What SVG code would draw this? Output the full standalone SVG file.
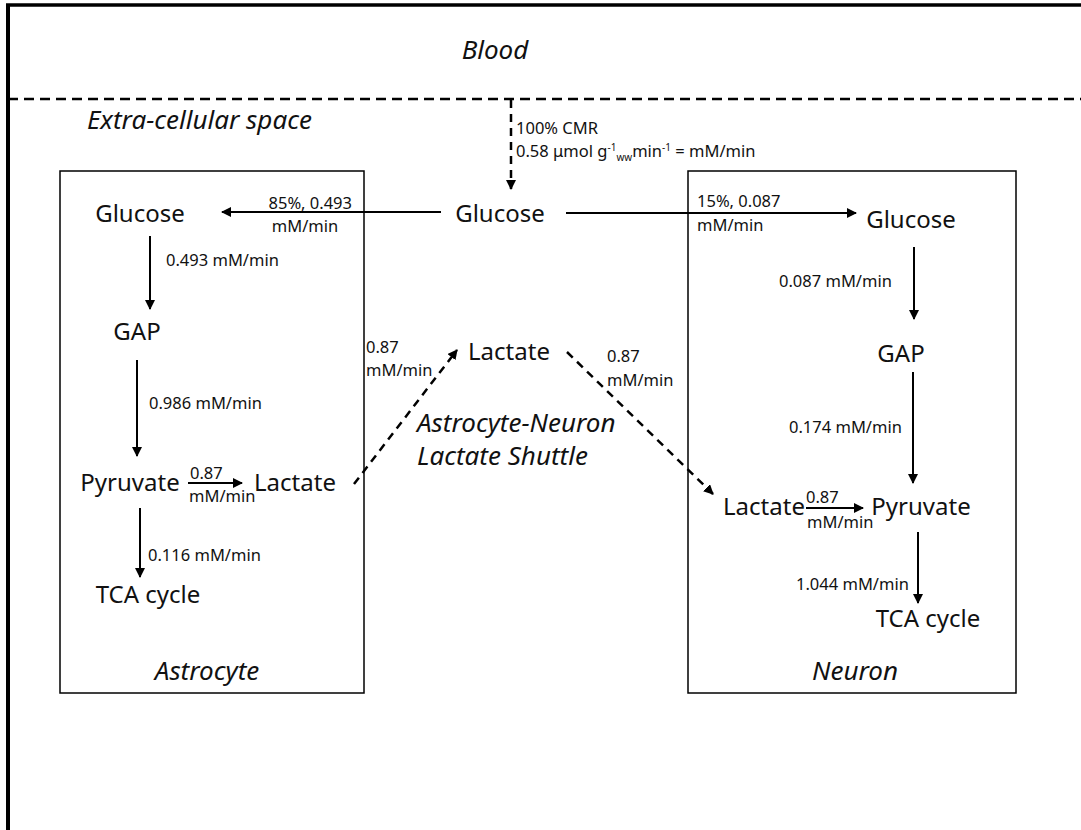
<svg xmlns="http://www.w3.org/2000/svg" width="1081" height="830" viewBox="0 0 1081 830">
  <defs>
    <marker id="ah" viewBox="0 0 10 10" refX="9" refY="5" markerWidth="10" markerHeight="10" markerUnits="userSpaceOnUse" orient="auto">
      <path d="M0,0 L10,5 L0,10 Z" fill="#000"/>
    </marker>
    <style>
      text { font-family: "Noto Sans", "Open Sans", sans-serif; fill: #111; }
      .big { font-size: 24px; }
      .it { font-size: 26px; font-style: italic; }
      .sm { font-size: 16.5px; }
      .sup { font-size: 10px; }
      .box { fill: none; stroke: #000; stroke-width: 1.5; }
      .arr { fill: none; stroke: #000; stroke-width: 2; marker-end: url(#ah); }
      .dash { fill: none; stroke: #000; stroke-width: 2.5; stroke-dasharray: 8 6; marker-end: url(#ah); }
    </style>
  </defs>

  <rect width="1081" height="830" fill="#fff"/>

  <!-- outer frame (top and left edges) -->
  <line x1="6" y1="5" x2="1081" y2="5" stroke="#000" stroke-width="3.5"/>
  <line x1="8" y1="4" x2="8" y2="830" stroke="#000" stroke-width="4"/>

  <!-- blood / extracellular boundary -->
  <line x1="8" y1="99" x2="1081" y2="99" stroke="#000" stroke-width="2.5" stroke-dasharray="10 6"/>
  <text class="it" x="495" y="59" text-anchor="middle">Blood</text>
  <text class="it" x="87" y="129">Extra-cellular space</text>

  <!-- compartments -->
  <g id="astrocyte">
    <rect class="box" x="60" y="171" width="304" height="522"/>
    <text class="it" x="207" y="680" text-anchor="middle">Astrocyte</text>
  </g>
  <g id="neuron">
    <rect class="box" x="688" y="171" width="328" height="522"/>
    <text class="it" x="855" y="680" text-anchor="middle">Neuron</text>
  </g>

  <!-- extracellular species -->
  <g id="glucose-ec"><text class="big" x="500" y="222" text-anchor="middle">Glucose</text></g>
  <g id="lactate-ec"><text class="big" x="509" y="360" text-anchor="middle">Lactate</text></g>
  <g id="shuttle-label">
    <text class="it" x="417" y="432">Astrocyte-Neuron</text>
    <text class="it" x="417" y="465">Lactate Shuttle</text>
  </g>

  <!-- astrocyte species -->
  <g id="glucose-a"><text class="big" x="140" y="222" text-anchor="middle">Glucose</text></g>
  <g id="gap-a"><text class="big" x="137" y="340" text-anchor="middle">GAP</text></g>
  <g id="pyruvate-a"><text class="big" x="130" y="491" text-anchor="middle">Pyruvate</text></g>
  <g id="lactate-a"><text class="big" x="295" y="491" text-anchor="middle">Lactate</text></g>
  <g id="tca-a"><text class="big" x="148" y="603" text-anchor="middle">TCA cycle</text></g>

  <!-- neuron species -->
  <g id="glucose-n"><text class="big" x="911" y="228" text-anchor="middle">Glucose</text></g>
  <g id="gap-n"><text class="big" x="901" y="362" text-anchor="middle">GAP</text></g>
  <g id="lactate-n"><text class="big" x="764" y="515" text-anchor="middle">Lactate</text></g>
  <g id="pyruvate-n"><text class="big" x="921" y="515" text-anchor="middle">Pyruvate</text></g>
  <g id="tca-n"><text class="big" x="928" y="627" text-anchor="middle">TCA cycle</text></g>

  <!-- connectors -->
  <g id="connectors">
    <line class="dash" x1="511" y1="100" x2="511" y2="189"/>
    <line class="arr" x1="441" y1="212" x2="222" y2="212"/>
    <line class="arr" x1="566" y1="213" x2="856" y2="213"/>

    <line class="arr" x1="150" y1="236" x2="150" y2="309"/>
    <line class="arr" x1="137" y1="360" x2="137" y2="456"/>
    <line class="arr" x1="188" y1="483" x2="242" y2="483"/>
    <line class="arr" x1="140" y1="508" x2="140" y2="577"/>

    <line class="dash" x1="354" y1="484" x2="457" y2="350"/>
    <line class="dash" x1="567" y1="352" x2="713" y2="494"/>

    <line class="arr" x1="914" y1="247" x2="914" y2="319"/>
    <line class="arr" x1="913" y1="372" x2="913" y2="483"/>
    <line class="arr" x1="806" y1="508" x2="863" y2="508"/>
    <line class="arr" x1="918" y1="532" x2="918" y2="603"/>
  </g>

  <!-- rate labels -->
  <g id="rates">
    <text class="sm" x="516" y="134">100% CMR</text>
    <text class="sm" x="516" y="157">0.58 μmol g<tspan class="sup" dy="-6">-1</tspan><tspan class="sup" dy="10">ww</tspan><tspan dy="-4">min</tspan><tspan class="sup" dy="-6">-1</tspan><tspan dy="6"> = mM/min</tspan></text>

    <text class="sm" x="352" y="209" text-anchor="end">85%, 0.493</text>
    <text class="sm" x="305" y="232" text-anchor="middle">mM/min</text>
    <text class="sm" x="697" y="207">15%, 0.087</text>
    <text class="sm" x="697" y="231">mM/min</text>

    <text class="sm" x="166" y="266">0.493 mM/min</text>
    <text class="sm" x="149" y="409">0.986 mM/min</text>
    <text class="sm" x="190" y="479">0.87</text>
    <text class="sm" x="189" y="502">mM/min</text>
    <text class="sm" x="148" y="561">0.116 mM/min</text>

    <text class="sm" x="366" y="353">0.87</text>
    <text class="sm" x="366" y="376">mM/min</text>
    <text class="sm" x="607" y="362">0.87</text>
    <text class="sm" x="607" y="386">mM/min</text>

    <text class="sm" x="779" y="287">0.087 mM/min</text>
    <text class="sm" x="789" y="433">0.174 mM/min</text>
    <text class="sm" x="806" y="503">0.87</text>
    <text class="sm" x="807" y="528">mM/min</text>
    <text class="sm" x="796" y="590">1.044 mM/min</text>
  </g>
</svg>
